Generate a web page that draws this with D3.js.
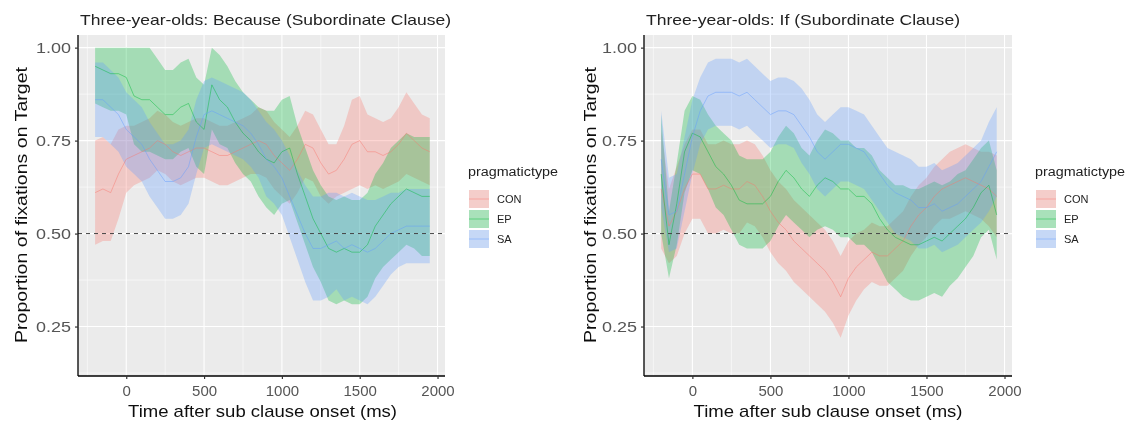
<!DOCTYPE html>
<html><head><meta charset="utf-8">
<script src="https://cdn.jsdelivr.net/npm/d3@7"></script>
<style>body{margin:0;background:#fff;} svg{display:block;font-family:"Liberation Sans",Arial,sans-serif;}</style>
</head><body><svg id="c" width="1134" height="423"></svg>
<script>
// ---------- data ----------
const times = [-200,-150,-100,-50,0,50,100,150,200,250,300,350,400,450,500,550,600,650,700,750,800,850,900,950,1000,1050,1100,1150,1200,1250,1300,1350,1400,1450,1500,1550,1600,1650,1700,1750,1800,1850,1900,1950];
const categories = ["CON","EP","SA"];
const xTicks = [0,500,1000,1500,2000];
const xTickLabels = ["0","500","1000","1500","2000"];
const yTicks = [0.25,0.50,0.75,1.00];
const yTickLabels = ["0.25","0.50","0.75","1.00"];
const titles = ["Three-year-olds: Because (Subordinate Clause)","Three-year-olds: If (Subordinate Clause)"];

// Panel 1: Because
const becauseCON = [0.61,0.62,0.61,0.66,0.70,0.71,0.72,0.73,0.75,0.74,0.72,0.71,0.72,0.73,0.73,0.72,0.71,0.71,0.72,0.73,0.74,0.75,0.74,0.71,0.69,0.67,0.70,0.74,0.73,0.69,0.66,0.67,0.70,0.74,0.75,0.72,0.72,0.71,0.72,0.74,0.77,0.75,0.73,0.72];
const becauseCONse = [0.14,0.14,0.13,0.12,0.09,0.08,0.08,0.08,0.08,0.08,0.08,0.08,0.08,0.08,0.08,0.08,0.08,0.08,0.08,0.08,0.08,0.09,0.09,0.09,0.09,0.09,0.09,0.09,0.09,0.09,0.08,0.07,0.09,0.12,0.12,0.10,0.09,0.09,0.09,0.10,0.11,0.10,0.09,0.09];
const becauseEP = [0.95,0.94,0.93,0.93,0.92,0.87,0.86,0.86,0.84,0.82,0.82,0.84,0.85,0.80,0.78,0.90,0.86,0.84,0.80,0.77,0.75,0.72,0.70,0.69,0.72,0.73,0.66,0.60,0.54,0.50,0.46,0.45,0.46,0.45,0.45,0.47,0.52,0.55,0.58,0.60,0.62,0.61,0.60,0.60];
const becauseEPse = [0.10,0.10,0.10,0.10,0.10,0.13,0.14,0.14,0.13,0.12,0.12,0.12,0.12,0.12,0.12,0.12,0.12,0.11,0.11,0.11,0.11,0.12,0.13,0.14,0.14,0.14,0.13,0.13,0.13,0.13,0.14,0.14,0.14,0.14,0.14,0.14,0.14,0.14,0.15,0.15,0.15,0.15,0.16,0.16];
const becauseSA = [0.86,0.86,0.84,0.82,0.78,0.76,0.74,0.70,0.67,0.64,0.64,0.65,0.68,0.76,0.82,0.83,0.82,0.81,0.80,0.79,0.77,0.74,0.70,0.68,0.65,0.60,0.55,0.50,0.46,0.46,0.47,0.48,0.46,0.47,0.46,0.45,0.46,0.48,0.50,0.51,0.52,0.52,0.52,0.52];
const becauseSAse = [0.10,0.10,0.10,0.10,0.10,0.10,0.10,0.10,0.10,0.10,0.10,0.10,0.10,0.10,0.09,0.09,0.09,0.09,0.09,0.09,0.09,0.09,0.10,0.10,0.10,0.11,0.12,0.13,0.14,0.14,0.14,0.13,0.14,0.14,0.14,0.14,0.13,0.12,0.11,0.10,0.10,0.10,0.10,0.10];

// Panel 2: If
const ifCON = [0.62,0.52,0.56,0.62,0.66,0.66,0.62,0.62,0.63,0.62,0.62,0.64,0.63,0.60,0.56,0.53,0.51,0.48,0.46,0.44,0.42,0.40,0.37,0.33,0.38,0.41,0.43,0.45,0.44,0.44,0.46,0.48,0.52,0.55,0.57,0.60,0.62,0.63,0.64,0.65,0.64,0.63,0.62,0.60];
const ifCONse = [0.16,0.10,0.12,0.12,0.12,0.12,0.12,0.12,0.12,0.12,0.12,0.11,0.11,0.11,0.11,0.11,0.11,0.11,0.11,0.11,0.11,0.11,0.11,0.11,0.10,0.09,0.08,0.08,0.08,0.08,0.08,0.08,0.08,0.08,0.08,0.08,0.08,0.09,0.09,0.09,0.09,0.09,0.10,0.11];
const ifEP = [0.66,0.47,0.58,0.72,0.77,0.76,0.72,0.68,0.66,0.63,0.59,0.58,0.58,0.58,0.60,0.64,0.67,0.65,0.62,0.60,0.63,0.65,0.64,0.62,0.62,0.60,0.60,0.58,0.54,0.51,0.49,0.48,0.47,0.47,0.48,0.49,0.48,0.50,0.52,0.54,0.57,0.61,0.63,0.55];
const ifEPse = [0.16,0.09,0.11,0.11,0.10,0.10,0.10,0.11,0.11,0.12,0.12,0.12,0.12,0.12,0.12,0.12,0.12,0.12,0.11,0.11,0.12,0.13,0.13,0.13,0.13,0.13,0.13,0.13,0.13,0.14,0.14,0.15,0.15,0.15,0.15,0.15,0.15,0.14,0.14,0.13,0.13,0.12,0.12,0.12];
const ifSA = [0.70,0.55,0.56,0.66,0.76,0.83,0.87,0.88,0.88,0.88,0.87,0.88,0.86,0.84,0.82,0.83,0.83,0.82,0.79,0.76,0.72,0.70,0.72,0.74,0.74,0.73,0.72,0.69,0.66,0.63,0.61,0.60,0.59,0.57,0.57,0.58,0.56,0.57,0.58,0.60,0.62,0.64,0.68,0.72];
const ifSAse = [0.13,0.10,0.10,0.10,0.10,0.09,0.09,0.09,0.09,0.09,0.09,0.09,0.09,0.09,0.09,0.09,0.09,0.09,0.10,0.10,0.10,0.10,0.10,0.10,0.10,0.10,0.10,0.10,0.10,0.10,0.11,0.11,0.11,0.11,0.11,0.11,0.11,0.11,0.11,0.11,0.11,0.11,0.12,0.12];

// ---------- drawing ----------
const colors = {CON:"#F8766D", EP:"#00BA38", SA:"#619CFF"};
const panels = [
  {title:titles[0], x0:78, x1:445, tx:80, tw:371, series:{CON:[becauseCON,becauseCONse],EP:[becauseEP,becauseEPse],SA:[becauseSA,becauseSAse]}, ylabX:27, legX:468},
  {title:titles[1], x0:644, x1:1012, tx:646, tw:314, series:{CON:[ifCON,ifCONse],EP:[ifEP,ifEPse],SA:[ifSA,ifSAse]}, ylabX:596, legX:1035}
];
const svg = d3.select("#c");
const defs = svg.append("defs");
defs.append("filter").attr("id","soft").attr("x","-2%").attr("y","-2%").attr("width","104%").attr("height","104%")
  .append("feGaussianBlur").attr("stdDeviation",0.45);
const root = svg.append("g").attr("filter","url(#soft)");
root.append("rect").attr("width",1134).attr("height",423).attr("fill","#fff");
const yTop = 35, yBot = 376;
const y = d3.scaleLinear().domain([0.117,1.034]).range([yBot,yTop]);

panels.forEach(p=>{
  const x = d3.scaleLinear().domain([-310,2048]).range([p.x0,p.x1]);
  const g = root.append("g");
  g.append("rect").attr("x",p.x0).attr("y",yTop).attr("width",p.x1-p.x0).attr("height",yBot-yTop).attr("fill","#EBEBEB");
  [-250,250,750,1250,1750].forEach(t=>g.append("line").attr("x1",x(t)).attr("x2",x(t)).attr("y1",yTop).attr("y2",yBot).attr("stroke","#fff").attr("stroke-width",0.55));
  [0.125,0.375,0.625,0.875].forEach(v=>g.append("line").attr("y1",y(v)).attr("y2",y(v)).attr("x1",p.x0).attr("x2",p.x1).attr("stroke","#fff").attr("stroke-width",0.55));
  xTicks.forEach(t=>g.append("line").attr("x1",x(t)).attr("x2",x(t)).attr("y1",yTop).attr("y2",yBot).attr("stroke","#fff").attr("stroke-width",1.1));
  yTicks.forEach(v=>g.append("line").attr("y1",y(v)).attr("y2",y(v)).attr("x1",p.x0).attr("x2",p.x1).attr("stroke","#fff").attr("stroke-width",1.1));

  const area = d3.area().x((d,i)=>x(times[i])).y0(d=>y(d[0])).y1(d=>y(d[1]));
  const line = d3.line().x((d,i)=>x(times[i])).y(d=>y(d));
  categories.forEach(c=>{
    const [m,se] = p.series[c];
    const band = m.map((v,i)=>[Math.max(0,v-se[i]), Math.min(1,v+se[i])]);
    g.append("path").attr("d",area(band)).attr("fill",colors[c]).attr("fill-opacity",0.3);
  });
  categories.forEach(c=>{
    const [m] = p.series[c];
    g.append("path").attr("d",line(m)).attr("fill","none").attr("stroke",colors[c]).attr("stroke-opacity",0.45).attr("stroke-width",1);
  });
  g.append("line").attr("x1",p.x0).attr("x2",p.x1).attr("y1",y(0.5)).attr("y2",y(0.5)).attr("stroke","#444").attr("stroke-width",1).attr("stroke-dasharray","4,4");

  const ax = g.append("g").attr("transform",`translate(0,${yBot})`).call(d3.axisBottom(x).tickValues(xTicks).tickFormat((d,i)=>xTickLabels[i]).tickSize(3).tickPadding(6));
  const ay = g.append("g").attr("transform",`translate(${p.x0},0)`).call(d3.axisLeft(y).tickValues(yTicks).tickFormat((d,i)=>yTickLabels[i]).tickSize(3).tickPadding(4));
  [ax,ay].forEach(a=>{
    a.select(".domain").attr("stroke","#000").attr("stroke-width",1.3);
    a.selectAll(".tick line").attr("stroke","#333").attr("stroke-width",1.2);
    a.selectAll("text").attr("fill","#555").style("font-size","15px").style("font-family","'Liberation Sans',Arial,sans-serif");
  });
  ay.selectAll(".tick text").attr("textLength",35).attr("lengthAdjust","spacingAndGlyphs");
  ax.select(".domain").attr("d",`M${p.x0},0H${p.x1}`);
  ay.select(".domain").attr("d",`M0,${yTop}V${yBot}`);

  g.append("text").attr("x",p.tx).attr("y",25).text(p.title).attr("fill","#222").style("font-size","15px").attr("textLength",p.tw).attr("lengthAdjust","spacingAndGlyphs");
  g.append("text").attr("x",(p.x0+p.x1)/2 + (p.x0<100?1:-0)).attr("y",417).attr("text-anchor","middle").text("Time after sub clause onset (ms)").attr("fill","#111").style("font-size","17px").attr("textLength",269).attr("lengthAdjust","spacingAndGlyphs");
  g.append("text").attr("transform",`translate(${p.ylabX},205) rotate(-90)`).attr("text-anchor","middle").text("Proportion of fixations on Target").attr("fill","#111").style("font-size","17px").attr("textLength",276).attr("lengthAdjust","spacingAndGlyphs");

  const lg = g.append("g");
  lg.append("text").attr("x",p.legX).attr("y",176).text("pragmatictype").attr("fill","#222").style("font-size","12px").attr("textLength",90).attr("lengthAdjust","spacingAndGlyphs");
  categories.forEach((c,i)=>{
    const ky = 190 + i*20;
    lg.append("rect").attr("x",p.legX+1).attr("y",ky).attr("width",20).attr("height",18).attr("fill","#F2F2F2");
    lg.append("rect").attr("x",p.legX+1).attr("y",ky).attr("width",20).attr("height",18).attr("fill",colors[c]).attr("fill-opacity",0.3);
    lg.append("line").attr("x1",p.legX+1).attr("x2",p.legX+21).attr("y1",ky+9).attr("y2",ky+9).attr("stroke",colors[c]).attr("stroke-opacity",0.45);
    lg.append("text").attr("x",p.legX+29).attr("y",ky+13).text(c).attr("fill","#222").style("font-size","11px");
  });
});
</script></body></html>
